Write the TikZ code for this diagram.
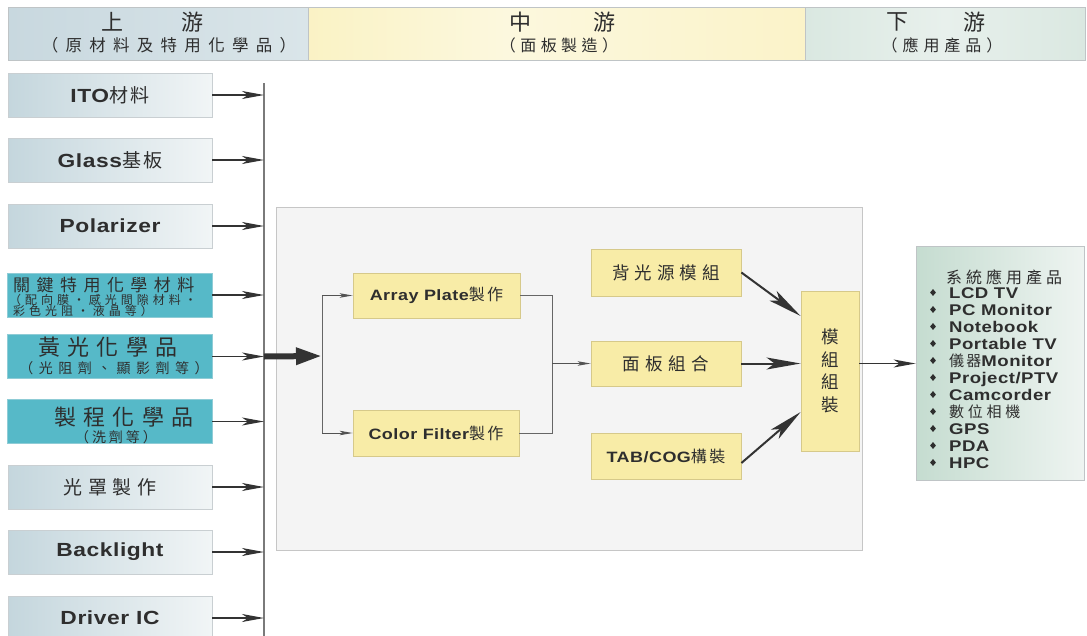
\documentclass[tikz,border=0pt]{standalone}
\usepackage{fontspec}
\setmainfont{Liberation Sans}
\newfontfamily\lat{Liberation Sans}[FakeStretch=1.2,LetterSpace=3]
\newfontfamily\cjk{Noto Sans CJK TC}
\usetikzlibrary{arrows.meta,shapes.geometric}
\newcommand\LatT[2]{{\lat\bfseries\fontsize{#1}{#1}\selectfont #2}}
\newcommand\CjkT[3]{{\cjk\fontsize{#1}{#1}\selectfont\addfontfeature{LetterSpace=#2}#3}}
\definecolor{ink}{HTML}{2E2E2E}
\definecolor{arr}{HTML}{333333}
\definecolor{busc}{HTML}{7A7A7A}
\definecolor{boxl}{HTML}{C4D6DD}
\definecolor{boxr}{HTML}{F1F5F6}
\definecolor{boxd}{HTML}{C9CFD2}
\definecolor{tealbox}{HTML}{56B9C8}
\definecolor{tealbd}{HTML}{8FCCD6}
\definecolor{ylw}{HTML}{F8ECA7}
\definecolor{ylwd}{HTML}{D6C98A}
\definecolor{panel}{HTML}{F4F4F4}
\definecolor{paneld}{HTML}{C6C6C6}
\definecolor{grl}{HTML}{C5DCD0}
\definecolor{grr}{HTML}{EEF4F1}
\definecolor{hl1}{HTML}{C8D8DF}
\definecolor{hl2}{HTML}{DAE5E9}
\definecolor{hy1}{HTML}{F7EBA5}
\definecolor{hy2}{HTML}{FCF8DE}
\definecolor{hy3}{HTML}{FAF1C2}
\definecolor{hg1}{HTML}{CCE0D6}
\definecolor{hg2}{HTML}{E8F0EC}
\definecolor{hdr}{HTML}{BFC4C6}
\pgfdeclarehorizontalshading{hmid}{100bp}{color(0bp)=(hy1); color(45bp)=(hy2); color(85bp)=(hy3); color(100bp)=(hy1)}
\pgfdeclarehorizontalshading{hright}{100bp}{color(0bp)=(hg1); color(50bp)=(hg2); color(100bp)=(hg1)}
\begin{document}
\begin{tikzpicture}[x=1pt,y=-1pt,
  lbox/.style={draw=boxd, line width=0.8pt, left color=boxl, right color=boxr, minimum width=204pt, minimum height=44pt, inner sep=0pt, text=ink},
  tbox/.style={draw=tealbd, fill=tealbox, line width=0.8pt, minimum width=205pt, minimum height=44pt, inner sep=0pt},
  ybox/.style={draw=ylwd, fill=ylw, line width=0.8pt, inner sep=0pt, text=ink},
  txt/.style={inner sep=0pt, text=ink},
  bul/.style={diamond, fill=ink, inner sep=0pt, minimum width=6pt, minimum height=7pt},
  sarrow/.style={draw=arr, line width=1.2pt, -{Stealth[length=22pt,width=8pt,inset=6pt]}},
  tarrow/.style={draw=arr!85, line width=1pt, -{Stealth[length=13pt,width=4.5pt,inset=3pt]}},
  barrow/.style={draw=arr, line width=2pt, -{Stealth[length=34pt,width=12pt,inset=8pt]}},
  conn/.style={draw=arr!75, line width=1pt},
]
\useasboundingbox (0,0) rectangle (1087,635);
\fill[white] (0,0) rectangle (1087,635);

% header
\node[draw=hdr, line width=0.8pt, left color=hl1, right color=hl2, minimum width=300pt, minimum height=53pt, inner sep=0pt] (hL) at (158,33.5) {};
\node[draw=hdr, line width=0.8pt, shade, shading=hmid, minimum width=497pt, minimum height=53pt, inner sep=0pt] (hM) at (556.5,33.5) {};
\node[draw=hdr, line width=0.8pt, shade, shading=hright, minimum width=280pt, minimum height=53pt, inner sep=0pt] (hR) at (945,33.5) {};
\node[txt] (hL1) at (112,22) {\CjkT{22}{0}{上}};
\node[txt] (hL2) at (192,22) {\CjkT{22}{0}{游}};
\node[txt] (hLs) at (169,45) {\CjkT{16.5}{44}{（原材料及特用化學品）}};
\node[txt] (hM1) at (520,22) {\CjkT{22}{0}{中}};
\node[txt] (hM2) at (604,22) {\CjkT{22}{0}{游}};
\node[txt] (hMs) at (559,45) {\CjkT{16}{28}{（面板製造）}};
\node[txt] (hR1) at (897,22) {\CjkT{22}{0}{下}};
\node[txt] (hR2) at (974,22) {\CjkT{22}{0}{游}};
\node[txt] (hRs) at (942,45) {\CjkT{16}{31}{（應用產品）}};

% middle panel
\node[draw=paneld, fill=panel, line width=0.8pt, minimum width=586pt, minimum height=343pt, inner sep=0pt] (panelbox) at (569,378.5) {};

% left column
\node[lbox] (ito) at (110,95) {\LatT{19}{ITO}\CjkT{19}{12}{材料}};
\node[lbox] (gls) at (110,160) {\LatT{19}{Glass}\CjkT{19}{12}{基板}};
\node[lbox] (pol) at (110,226) {\LatT{19}{Polarizer}};
\node[tbox] (key) at (109.5,295) {};
\node[txt, anchor=west] (k1) at (13,285) {\CjkT{17}{38}{關鍵特用化學材料}};
\node[txt, anchor=west] (k2) at (9,299.5) {\CjkT{12}{33}{（配向膜・感光間隙材料・}};
\node[txt, anchor=west] (k3) at (13,311) {\CjkT{12}{33}{彩色光阻・液晶等）}};
\node[tbox] (yg) at (109.5,356.5) {};
\node[txt] (y1) at (108,347) {\CjkT{22}{32}{黃光化學品}};
\node[txt] (y2) at (114,368) {\CjkT{14}{39}{（光阻劑、顯影劑等）}};
\node[tbox] (pc) at (109.5,421.5) {};
\node[txt] (p1) at (124,417) {\CjkT{22}{32}{製程化學品}};
\node[txt] (p2) at (116,437) {\CjkT{14}{21}{（洗劑等）}};
\node[lbox] (mask) at (110,487) {\CjkT{19}{29}{光罩製作}};
\node[lbox] (bkl) at (110,552) {\LatT{19}{Backlight}};
\node[lbox] (drv) at (110,618) {\LatT{19}{Driver IC}};

% bus
\coordinate (bus) at (264,83);
\coordinate (busend) at (264,640);
\draw[draw=busc, line width=1.6pt] (bus) -- (busend);
\foreach \n in {ito,gls,pol,key,yg,pc,mask,bkl,drv}
  \draw[sarrow] (\n.east) -- (\n.east -| bus);

% middle boxes
\node[ybox, minimum width=167pt, minimum height=45pt] (ap) at (436.5,295.5) {\LatT{15}{Array Plate}\CjkT{16}{15}{製作}};
\node[ybox, minimum width=166pt, minimum height=46pt] (cf) at (436,433) {\LatT{15}{Color Filter}\CjkT{16}{15}{製作}};
\node[ybox, minimum width=150pt, minimum height=47pt] (bl) at (666,272.5) {\CjkT{17.5}{29}{背光源模組}};
\node[ybox, minimum width=150pt, minimum height=45pt] (pb) at (666,363.5) {\CjkT{17.5}{31}{面板組合}};
\node[ybox, minimum width=150pt, minimum height=46pt] (tc) at (666,456) {\LatT{15}{TAB/COG}\CjkT{16}{15}{構裝}};
\node[ybox, minimum width=58pt, minimum height=160pt, align=center, font={\cjk\fontsize{17.5}{22.5}\selectfont}] (mz) at (830,371) {模\\組\\組\\裝};

% thick arrow and branch
\coordinate (split) at (322,356);
\draw[draw=arr, line width=6pt, -{Triangle[length=26pt,width=16pt]}] (yg.east -| bus) -- (split);
\draw[conn] (split |- ap.west) -- (split |- cf.west);
\draw[tarrow] (split |- ap.west) -- (ap.west);
\draw[tarrow] (split |- cf.west) -- (cf.west);
\coordinate (merge) at (552,363.5);
\draw[conn] (ap.east) -| (merge |- cf.east) -- (cf.east);
\draw[tarrow] (merge) -- (pb.west);
\draw[barrow] (bl.east) -- ([yshift=55pt]mz.west);
\draw[barrow] (pb.east) -- (mz.west |- pb.east);
\draw[barrow] ([yshift=-7pt]tc.east) -- ([yshift=-41pt]mz.west);

% right box
\node[draw=hdr, line width=0.8pt, left color=grl, right color=grr, minimum width=168pt, minimum height=234pt, inner sep=0pt] (rb) at (1000,363) {};
\draw[sarrow, line width=1.4pt] (mz.east |- pb.east) -- (rb.west |- pb.east);
\node[txt] (rt) at (1004,277) {\CjkT{16}{25}{系統應用產品}};
\node[bul] (b1) at (933,292.5) {};
\node[txt, anchor=base west] (i1) at (949,298) {\LatT{15.5}{LCD TV}};
\node[bul] (b2) at (933,309.5) {};
\node[txt, anchor=base west] (i2) at (949,315) {\LatT{15.5}{PC Monitor}};
\node[bul] (b3) at (933,326.5) {};
\node[txt, anchor=base west] (i3) at (949,332) {\LatT{15.5}{Notebook}};
\node[bul] (b4) at (933,343.5) {};
\node[txt, anchor=base west] (i4) at (949,349) {\LatT{15.5}{Portable TV}};
\node[bul] (b5) at (933,360.5) {};
\node[txt, anchor=base west] (i5) at (949,366) {\CjkT{15}{15}{儀器}\LatT{15.5}{Monitor}};
\node[bul] (b6) at (933,377.5) {};
\node[txt, anchor=base west] (i6) at (949,383) {\LatT{15.5}{Project/PTV}};
\node[bul] (b7) at (933,394.5) {};
\node[txt, anchor=base west] (i7) at (949,400) {\LatT{15.5}{Camcorder}};
\node[bul] (b8) at (933,411.5) {};
\node[txt, anchor=base west] (i8) at (949,417) {\CjkT{15}{25}{數位相機}};
\node[bul] (b9) at (933,428.5) {};
\node[txt, anchor=base west] (i9) at (949,434) {\LatT{15.5}{GPS}};
\node[bul] (b10) at (933,445.5) {};
\node[txt, anchor=base west] (i10) at (949,451) {\LatT{15.5}{PDA}};
\node[bul] (b11) at (933,462.5) {};
\node[txt, anchor=base west] (i11) at (949,468) {\LatT{15.5}{HPC}};
\end{tikzpicture}
\end{document}
